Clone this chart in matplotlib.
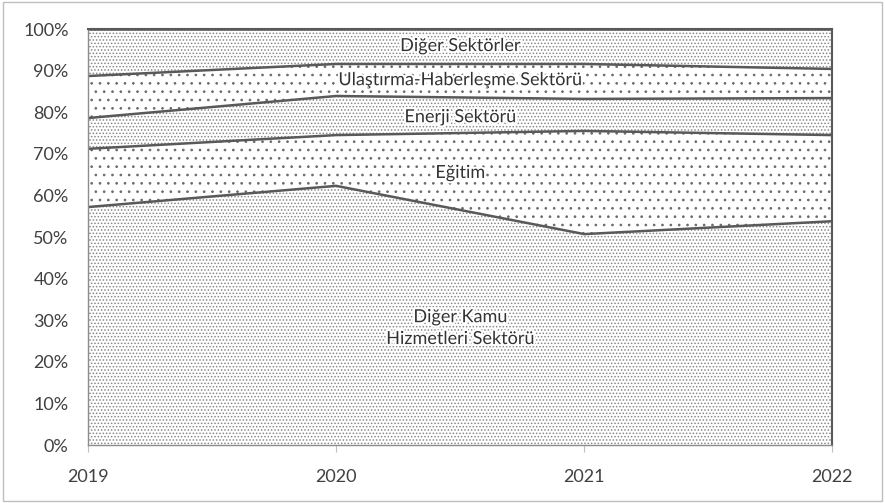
import numpy as np
import matplotlib.pyplot as plt
import matplotlib.patheffects as pe
from matplotlib.patches import Rectangle

plt.rcParams['font.family'] = ['Lato', 'DejaVu Sans']
plt.rcParams['hatch.color'] = '#8c8c8c'
plt.rcParams['hatch.linewidth'] = 0.7

years = [2019, 2020, 2021, 2022]
# layer shares (%)
diger_kamu = [57.2, 62.3, 50.7, 53.8]
egitim = [14.0, 12.2, 24.8, 20.7]
enerji = [7.4, 9.4, 7.7, 8.9]
ulastirma = [10.1, 7.7, 8.4, 7.0]
diger_sektorler = [11.3, 8.4, 8.4, 9.6]

layers = [diger_kamu, egitim, enerji, ulastirma, diger_sektorler]
labels = ['Diğer Kamu\nHizmetleri Sektörü', 'Eğitim', 'Enerji Sektörü',
          'Ulaştırma-Haberleşme Sektörü', 'Diğer Sektörler']
label_y = [28.1, 65.4, 78.8, 87.7, 95.9]
hatches = ['.....', '..', '.....', '..', '.....']
hatch_colors = ['#888888', '#6a6a6a', '#888888', '#6a6a6a', '#888888']

fig = plt.figure(figsize=(8.85, 5.03), dpi=100)
ax = fig.add_axes([0.0994, 0.1153, 0.8412, 0.827])

x = np.arange(len(years))
bottom = np.zeros(len(years))
for vals, h, hc in zip(layers, hatches, hatch_colors):
    top = bottom + np.array(vals)
    ax.fill_between(x, bottom, top, facecolor='white', hatch=h,
                    edgecolor=hc, linewidth=0)
    ax.plot(x, top, color='#595959', lw=1.8)
    bottom = top

for lab, ly in zip(labels, label_y):
    ax.text(1.5, ly, lab, ha='center', va='center', fontsize=13, color='#333333',
            linespacing=1.45,
            path_effects=[pe.withStroke(linewidth=3, foreground='white')])

ax.set_xlim(0, 3)
ax.set_ylim(0, 100)
ax.set_xticks(x)
ax.set_xticklabels([str(y) for y in years])
ax.set_yticks(range(0, 101, 10))
ax.set_yticklabels([f'{v}%' for v in range(0, 101, 10)])
ax.tick_params(axis='y', length=0, pad=14, labelsize=13, labelcolor='#404040')
ax.tick_params(axis='x', length=5, color='#bfbfbf', pad=12, labelsize=13, labelcolor='#404040')
for s in ax.spines.values():
    s.set_color('#595959')
    s.set_linewidth(1.5)
ax.spines['left'].set_color('#8c8c8c')
ax.spines['left'].set_linewidth(1)
ax.spines['bottom'].set_color('#8c8c8c')
ax.spines['bottom'].set_linewidth(1)

fig.patches.append(Rectangle((0.003, 0.003), 0.994, 0.994, transform=fig.transFigure,
                             fill=False, edgecolor='#bfbfbf', lw=1))

fig.savefig('out.png', dpi=100)
